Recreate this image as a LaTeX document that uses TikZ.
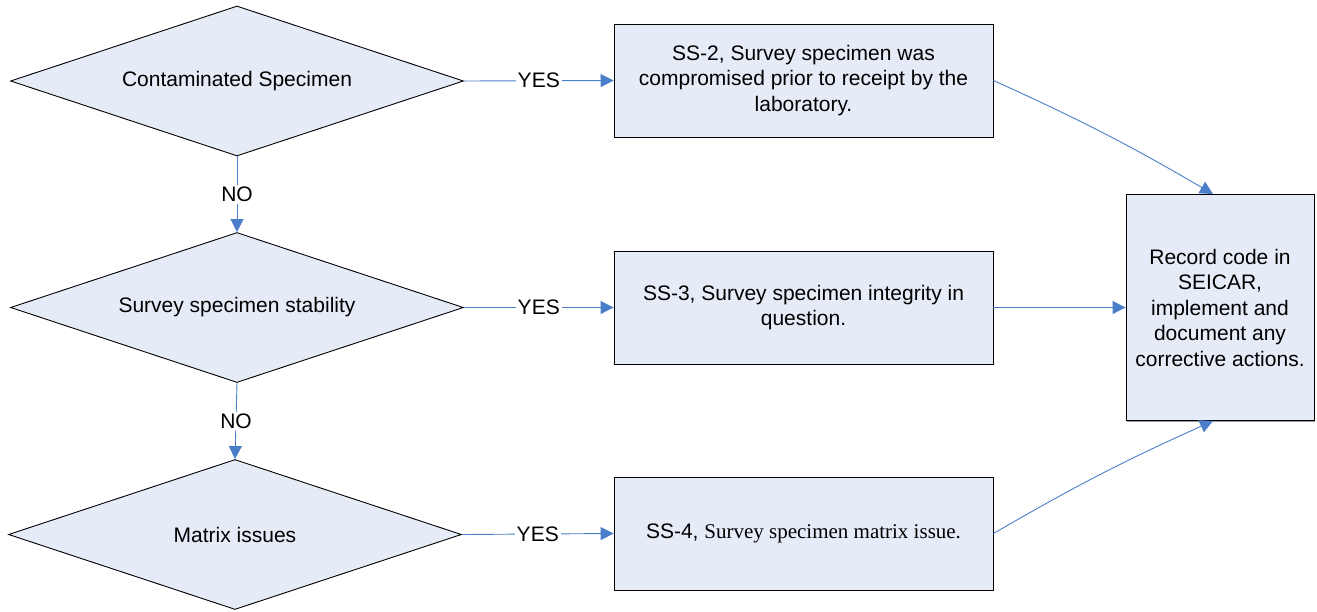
\documentclass[tikz,border=0pt]{standalone}
\usepackage{fontspec}
\setmainfont{Liberation Sans}
\newfontfamily\serifface{Liberation Serif}
\usetikzlibrary{shapes.geometric,arrows.meta,shadows}
\definecolor{boxfill}{HTML}{E6ECF7}
\definecolor{flowblue}{HTML}{4A7EC8}
\begin{document}
\begin{tikzpicture}[x=1pt,y=-1pt,
  font=\fontsize{21}{25.5}\selectfont,
  decision/.style={diamond,draw=black,line width=0.9pt,fill=boxfill,
    minimum width=453pt,minimum height=150pt,inner sep=0pt,aspect=3},
  boxshadow/.style={drop shadow={shadow xshift=1.2pt,shadow yshift=-1.2pt,
    fill=black!40,opacity=1}},
  outcome/.style={rectangle,draw=black,line width=0.9pt,fill=boxfill,
    minimum width=379pt,minimum height=113pt,align=center,inner sep=0pt,boxshadow},
  flow/.style={draw=flowblue,line width=0.9pt,-{Triangle[length=13pt,width=13pt]}},
  lbl/.style={fill=white,inner sep=2pt}]
\useasboundingbox (0,0) rectangle (1317,611);

% decisions
\node[decision] (d1) at (237,81) {Contaminated Specimen};
\node[decision] (d2) at (237,307.5) {Survey specimen stability};
\node[decision] (d3) at (235,534.5) {Matrix issues};

% outcomes
\node[outcome] (b1) at (803.5,80.5) {SS-2, Survey specimen was\\compromised prior to receipt by the\\laboratory.};
\node[outcome] (b2) at (803.5,307.5) {SS-3, Survey specimen integrity in\\question.};
\node[outcome] (b3) at (803.5,533.5) {SS-4, {\serifface Survey specimen matrix issue.}};

% final action
\node[rectangle,draw=black,line width=0.9pt,fill=boxfill,boxshadow,
  minimum width=188pt,minimum height=226pt,align=center,inner sep=0pt]
  (rec) at (1220,307.5) {Record code in\\SEICAR,\\implement and\\document any\\corrective actions.};

% connectors
\draw[flow] (d1.east) -- node[lbl]{YES} (b1.west);
\draw[flow] (d2.east) -- node[lbl]{YES} (b2.west);
\draw[flow] (d3.east) -- node[lbl]{YES} (b3.west);
\draw[flow] (d1.south) -- node[lbl]{NO} (d2.north);
\draw[flow] (d2.south) -- node[lbl]{NO} (d3.north);
\draw[flow] (b1.east) to[bend left=3] ([xshift=-7pt]rec.north);
\draw[flow] (b2.east) -- (rec.west);
\draw[flow] (b3.east) to[bend left=3] ([xshift=-7pt]rec.south);
\end{tikzpicture}
\end{document}
